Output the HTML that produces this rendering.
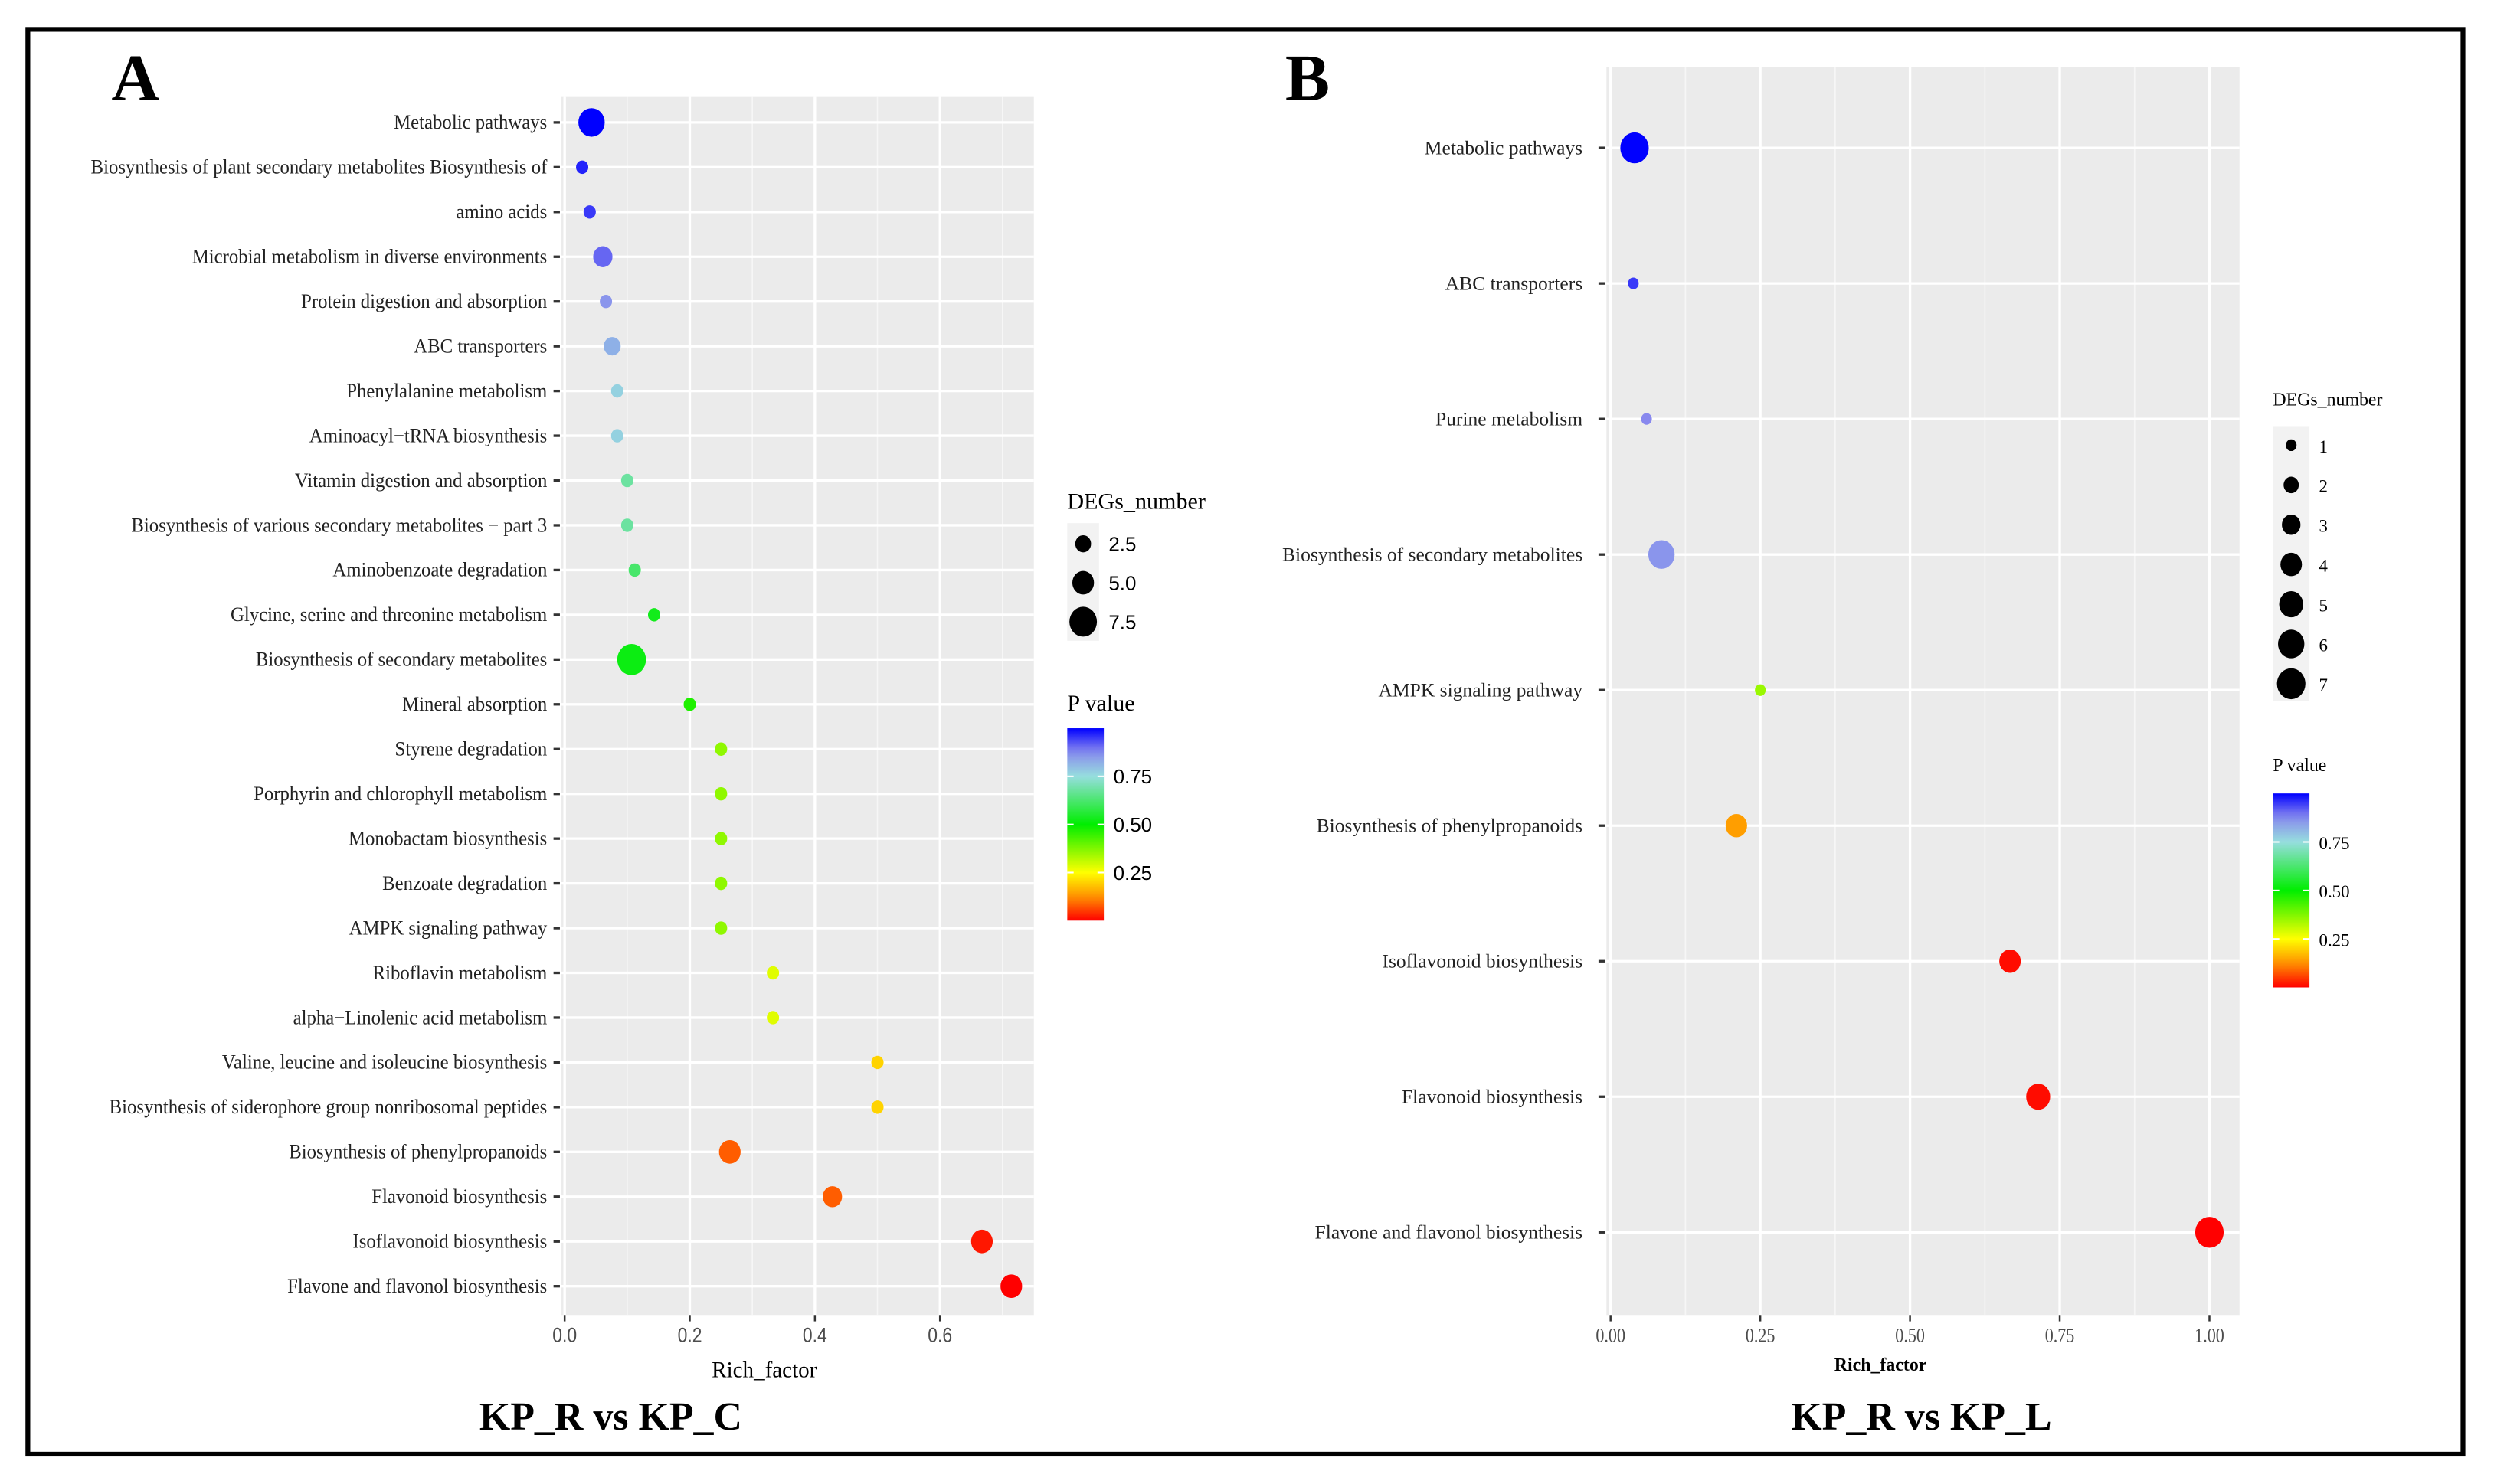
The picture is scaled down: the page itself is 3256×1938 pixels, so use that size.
<!DOCTYPE html>
<html><head><meta charset="utf-8"><style>
html,body{margin:0;padding:0;background:#fff;}
svg{display:block;}
text{font-family:"Liberation Serif",serif;}
.sans{font-family:"Liberation Sans",sans-serif;}
</style></head><body>
<svg id="fig" width="3256" height="1938" viewBox="0 0 1568 933.3" xmlns="http://www.w3.org/2000/svg">
<rect x="0" y="0" width="1568" height="933.3" fill="#fff"/>
<rect x="17.5" y="18.5" width="1531" height="896" fill="none" stroke="#000" stroke-width="3"/>
<text x="70" y="63" font-size="42" font-weight="bold">A</text>
<text x="808" y="63" font-size="42" font-weight="bold">B</text>
<g id="gA"></g>
<g id="gB"></g>
<text x="384" y="899" font-size="25" font-weight="bold" text-anchor="middle">KP_R vs KP_C</text>
<text x="1208" y="899" font-size="25" font-weight="bold" text-anchor="middle">KP_R vs KP_L</text>
</svg>
<script>
// Panel A data
const catsA = ["Metabolic pathways","Biosynthesis of plant secondary metabolites Biosynthesis of","amino acids","Microbial metabolism in diverse environments","Protein digestion and absorption","ABC transporters","Phenylalanine metabolism","Aminoacyl\u2212tRNA biosynthesis","Vitamin digestion and absorption","Biosynthesis of various secondary metabolites \u2212 part 3","Aminobenzoate degradation","Glycine, serine and threonine metabolism","Biosynthesis of secondary metabolites","Mineral absorption","Styrene degradation","Porphyrin and chlorophyll metabolism","Monobactam biosynthesis","Benzoate degradation","AMPK signaling pathway","Riboflavin metabolism","alpha\u2212Linolenic acid metabolism","Valine, leucine and isoleucine biosynthesis","Biosynthesis of siderophore group nonribosomal peptides","Biosynthesis of phenylpropanoids","Flavonoid biosynthesis","Isoflavonoid biosynthesis","Flavone and flavonol biosynthesis"];
const richA = [0.043,0.028,0.040,0.061,0.066,0.076,0.084,0.084,0.100,0.100,0.112,0.143,0.107,0.200,0.250,0.250,0.250,0.250,0.250,0.333,0.333,0.500,0.500,0.264,0.428,0.667,0.714];
const countA = [7,1,1,4,1,3,1,1,1,1,1,1,8,1,1,1,1,1,1,1,1,1,1,5,4,5,5];
const pA = [1.0,0.97,0.95,0.91,0.86,0.82,0.77,0.77,0.68,0.68,0.62,0.53,0.52,0.47,0.36,0.36,0.36,0.36,0.36,0.28,0.28,0.2,0.2,0.08,0.08,0.02,0.0];
const ticksA = [0,0.2,0.4,0.6];
const tickLabelsA = ["0.0","0.2","0.4","0.6"];
const sizeLegA = [2.5,5.0,7.5];
const sizeLegLabelsA = ["2.5","5.0","7.5"];
// Panel B data
const catsB = ["Metabolic pathways","ABC transporters","Purine metabolism","Biosynthesis of secondary metabolites","AMPK signaling pathway","Biosynthesis of phenylpropanoids","Isoflavonoid biosynthesis","Flavonoid biosynthesis","Flavone and flavonol biosynthesis"];
const richB = [0.04,0.038,0.06,0.085,0.25,0.21,0.667,0.714,1.0];
const countB = [7,1,1,6,1,4,4,5,7];
const pB = [1.0,0.95,0.88,0.86,0.35,0.14,0.01,0.01,0.0];
const ticksB = [0,0.25,0.5,0.75,1.0];
const tickLabelsB = ["0.00","0.25","0.50","0.75","1.00"];
const sizeLegB = [1,2,3,4,5,6,7];
const sizeLegLabelsB = ["1","2","3","4","5","6","7"];
const colorTicks = [0.25,0.5,0.75];
const colorTickLabels = ["0.25","0.50","0.75"];

const NS="http://www.w3.org/2000/svg";
function mk(tag,attrs,parent){const e=document.createElementNS(NS,tag);for(const k in attrs)e.setAttribute(k,attrs[k]);parent.appendChild(e);return e;}
const stops=[[0,[255,0,0]],[0.12,[255,140,0]],[0.25,[255,255,0]],[0.5,[0,238,0]],[0.75,[150,222,222]],[0.88,[136,136,238]],[1,[0,0,255]]];
function pColor(p){for(let i=1;i<stops.length;i++){if(p<=stops[i][0]){const a=stops[i-1],b=stops[i];const t=(p-a[0])/(b[0]-a[0]);const c=a[1].map((v,j)=>Math.round(v+(b[1][j]-v)*t));return `rgb(${c[0]},${c[1]},${c[2]})`;}}return "rgb(0,0,255)";}

function panel(g,cfg){
  const {cats,rich,count,p,ticks,tickLabels,x0,scale,left,right,top,bottom,y0,dy,rFn,fs,lsx,labelEnd,tickFs,titleY,titleBold,titleFs,leg,suffix}=cfg;
  const X=v=>x0+v*scale, Y=i=>y0+i*dy;
  const bg=mk('rect',{x:left,y:top,width:right-left,height:bottom-top,fill:'#ebebeb'},g);
  
  
  const step=ticks[1]-ticks[0];
  const xmax=(right-x0)/scale;
  for(let v=step/2;v<=xmax;v+=step){const l=mk('line',{x1:X(v),x2:X(v),y1:top,y2:bottom,stroke:'#f6f6f6','stroke-width':0.8},g);
    
    }
  ticks.forEach((v,i)=>{const l=mk('line',{x1:X(v),x2:X(v),y1:top,y2:bottom,stroke:'#fff','stroke-width':1.6},g);
    
    
    const t=mk('line',{x1:X(v),x2:X(v),y1:bottom,y2:bottom+4,stroke:'#333','stroke-width':1.2},g);
    
    
    const tx=mk('text',{x:X(v)/0.85,y:bottom+17,'font-size':tickFs,'text-anchor':'middle',fill:'#4d4d4d',transform:'scale(0.85,1)'},g);
    tx.setAttribute('class',suffix==='a'?'sans':'');
    tx.textContent=tickLabels[i];
    
    });
  cats.forEach((c,i)=>{const l=mk('line',{x1:left,x2:right,y1:Y(i),y2:Y(i),stroke:'#fff','stroke-width':1.6},g);
    
    
    const t=mk('line',{x1:left-5,x2:left-1,y1:Y(i),y2:Y(i),stroke:'#333','stroke-width':1.6},g);
    
    
    const tx=mk('text',{x:labelEnd/lsx,y:Y(i)+4,'font-size':fs,'text-anchor':'end',fill:'#222',transform:`scale(${lsx},1)`},g);
    tx.textContent=c;
    
    });
  cats.forEach((c,i)=>{const d=mk('ellipse',{cx:X(rich[i]),cy:Y(i),rx:rFn(count[i])*0.92,ry:rFn(count[i]),fill:pColor(p[i])},g);
    
    });
  const tt=mk('text',{x:(x0+ (right-x0)*0.5)-(suffix==='a'?22:28),y:titleY,'font-size':titleFs,'text-anchor':'middle','font-weight':titleBold?'bold':'normal'},g);
  tt.textContent='Rich_factor';
  
  
  const L=leg;
  const st=mk('text',{x:L.x,y:L.titleY,'font-size':L.titleFs},g);
  st.textContent='DEGs_number';
  
  
  mk('rect',{x:L.x,y:L.keyTop,width:L.keyW,height:L.keyH,fill:'#f2f2f2'},g);
  L.vals.forEach((v,i)=>{const cy=L.firstY+i*L.dy;
    const c=mk('ellipse',{cx:L.x+L.keyW/2,cy:cy,rx:rFn(v)*0.92,ry:rFn(v),fill:'#000'},g);
    
    
    const t=mk('text',{x:L.x+L.keyW+6,y:cy+4.5,'font-size':L.fs},g);
    if(suffix==='a')t.setAttribute('class','sans');
    t.textContent=L.labels[i];
    
    });
  const pt=mk('text',{x:L.x,y:L.pTitleY,'font-size':L.titleFs},g);
  pt.textContent='P value';
  
  
  const gid='grad'+suffix;
  const defs=mk('defs',{},g);
  const lg=mk('linearGradient',{id:gid,x1:0,y1:1,x2:0,y2:0},defs);
  for(let k=0;k<=20;k++){mk('stop',{offset:(k/20),'stop-color':pColor(k/20)},lg);}
  const cb=mk('rect',{x:L.x,y:L.cbTop,width:L.cbW,height:L.cbBot-L.cbTop,fill:`url(#${gid})`},g);
  
  
  colorTicks.forEach((v,i)=>{const y=L.cbBot-v*(L.cbBot-L.cbTop);
    mk('line',{x1:L.x,x2:L.x+4,y1:y,y2:y,stroke:'#fff','stroke-width':1},g);
    mk('line',{x1:L.x+L.cbW-4,x2:L.x+L.cbW,y1:y,y2:y,stroke:'#fff','stroke-width':1},g);
    const t=mk('text',{x:L.x+L.cbW+6,y:y+4.5,'font-size':L.fs},g);
    if(suffix==='a')t.setAttribute('class','sans');
    t.textContent=colorTickLabels[i];
    
    });
}
panel(document.getElementById('gA'),{cats:catsA,rich:richA,count:countA,p:pA,ticks:ticksA,tickLabels:tickLabelsA,
  x0:355,scale:393.3,left:353,right:650,top:61,bottom:827,y0:77,dy:28.15,rFn:c=>3.4+0.8*c,fs:12.5,lsx:0.955,labelEnd:344,tickFs:13,
  titleY:866,titleBold:false,titleFs:14,suffix:'a',
  leg:{x:671,titleY:320,titleFs:14.5,keyTop:329,keyW:20,keyH:74,firstY:342,dy:24.5,vals:sizeLegA,labels:sizeLegLabelsA,fs:12.5,
       pTitleY:447,cbTop:458,cbBot:579,cbW:23}});
panel(document.getElementById('gB'),{cats:catsB,rich:richB,count:countB,p:pB,ticks:ticksB,tickLabels:tickLabelsB,
  x0:1012.6,scale:376.5,left:1010,right:1408,top:42,bottom:827,y0:93,dy:85.25,rFn:c=>Math.sqrt(13.5*c),fs:12.3,lsx:1,labelEnd:995,tickFs:12.5,
  titleY:862,titleBold:true,titleFs:11.5,suffix:'b',
  leg:{x:1429,titleY:255,titleFs:11.5,keyTop:268,keyW:23,keyH:173,firstY:280,dy:25,vals:sizeLegB,labels:sizeLegLabelsB,fs:11,
       pTitleY:485,cbTop:499,cbBot:621,cbW:23}});
</script>
</body></html>
